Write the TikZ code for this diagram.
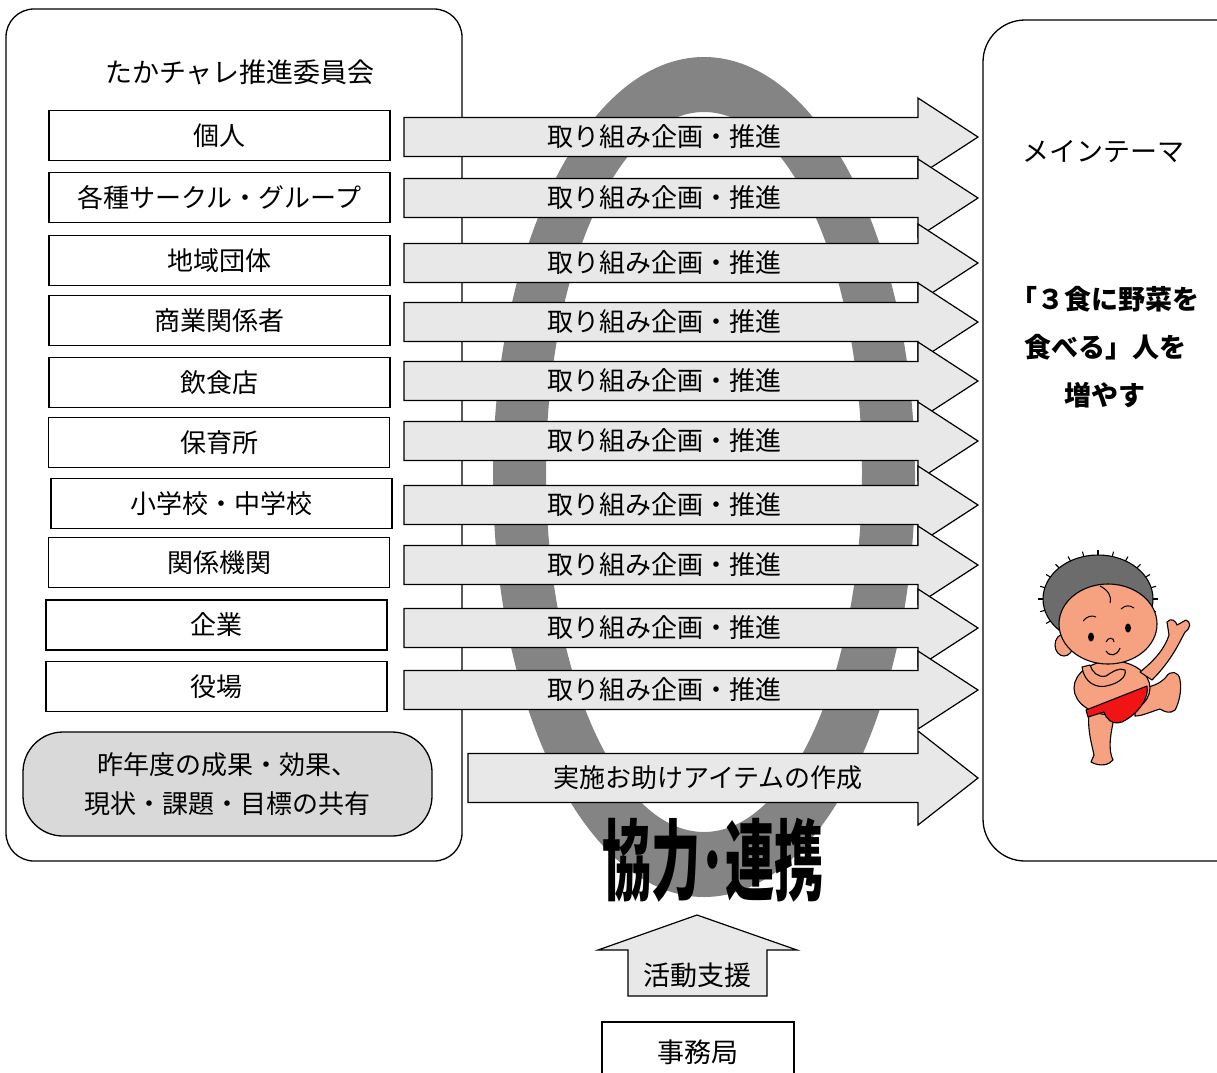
\documentclass[tikz,border=0pt]{standalone}
\usepackage{fontspec}
\usepackage{graphicx}
\setmainfont{Noto Sans CJK JP}
\definecolor{ringgrey}{RGB}{132,132,132}
\definecolor{arrowfill}{RGB}{232,232,232}
\definecolor{panelfill}{RGB}{217,217,217}
\definecolor{skin}{RGB}{246,162,128}
\definecolor{hair}{RGB}{108,108,108}
\definecolor{cloth}{RGB}{240,20,20}

% block arrow: #1 tip name, #2 centre y, #3 left x, #4 half shaft, #5 half head
\newcommand\planarrow[5]{%
  \draw[blockarrow] (#3,#2-#4) -- (918,#2-#4) -- (918,#2-#5) -- (978,#2)
    coordinate (#1) -- (918,#2+#5) -- (918,#2+#4) -- (#3,#2+#4) -- cycle;}

\begin{document}
\begin{tikzpicture}[x=1pt,y=-1pt,
  frame/.style={draw=black,line width=1.3pt},
  member/.style={draw=black,line width=1.3pt,minimum width=341pt,
    minimum height=50pt,inner sep=0pt,font=\fontsize{26}{30}\selectfont},
  blockarrow/.style={draw=black,line width=1.2pt,fill=arrowfill,line join=miter},
  arrowtext/.style={inner sep=0pt,font=\fontsize{26}{30}\selectfont},
  plain/.style={inner sep=0pt,font=\fontsize{27}{31}\selectfont},
  theme/.style={inner sep=0pt,align=center,
    font=\fontsize{27}{48}\selectfont\bfseries},
  outline/.style={draw=black,line width=1.1pt,line join=round}]

\useasboundingbox (0,0) rectangle (1217,1072);
\clip (0,0) rectangle (1217,1072);
\fill[white] (0,0) rectangle (1217,1072);

% cooperation ring behind the arrows
\fill[ringgrey,even odd rule]
  (704,477) ellipse [x radius=211,y radius=420]
  (704,472) ellipse [x radius=158,y radius=360];

% committee panel
\draw[frame,rounded corners=28pt] (6,9) rectangle (462,861);
\node[plain] (title) at (240,72) {たかチャレ推進委員会};

\node[member] (m1)  at (219.5,135.5) {個人};
\node[member] (m2)  at (219.5,197.5) {各種サークル・グループ};
\node[member] (m3)  at (219.5,260.5) {地域団体};
\node[member] (m4)  at (219.5,320.5) {商業関係者};
\node[member] (m5)  at (219.5,382.5) {飲食店};
\node[member] (m6)  at (219,442.5)   {保育所};
\node[member] (m7)  at (221.5,503.5) {小学校・中学校};
\node[member] (m8)  at (219,562.5)   {関係機関};
\node[member] (m9)  at (216.5,625)   {企業};
\node[member] (m10) at (216.5,686.5) {役場};

\node[draw=black,line width=1.3pt,fill=panelfill,rounded corners=40pt,
  minimum width=409pt,minimum height=104pt,inner sep=0pt,align=center,
  font=\fontsize{26}{39}\selectfont] (share) at (227.5,784)
  {昨年度の成果・効果、\\現状・課題・目標の共有};

% theme panel
\draw[frame,rounded corners=42pt] (983,20) rectangle (1260,861);
\node[plain] (themehead) at (1103,152) {メインテーマ};
\node[theme] (theme) at (1105,347) {「３食に野菜を\\食べる」人を\\増やす};

% planning arrows
\foreach \k/\cy in {1/137,2/198,3/263,4/322,5/381,6/441,7/505,8/565,9/628,10/690}{
  \planarrow{tip\k}{\cy}{404}{19.5}{39}
  \node[arrowtext] (plan\k) at (664,\cy) {取り組み企画・推進};
}
\planarrow{tip11}{778}{468}{24.5}{47}
\node[arrowtext] (tools) at (708,778) {実施お助けアイテムの作成};

% cooperation label
\node[inner sep=0pt] (coop) at (713,860)
  {\scalebox{0.56}[1]{\fontsize{88}{88}\selectfont\bfseries 協力･連携}};

% support arrow from the secretariat
\draw[blockarrow] (697,915) coordinate (suptip) -- (797,950) -- (767,950)
  -- (767,996) -- (628,996) -- (628,950) -- (598,950) -- cycle;
\node[arrowtext,font=\fontsize{27}{31}\selectfont] (support) at (697,975) {活動支援};
\node[draw=black,line width=1.3pt,minimum width=192pt,minimum height=60pt,
  inner sep=0pt,font=\fontsize{27}{31}\selectfont] (office) at (698,1052) {事務局};

% mascot
\begin{scope}
  % standing leg
  \filldraw[outline,fill=skin] (1089,710) .. controls (1087,730) and (1092,745) .. (1094,755)
    -- (1091,762) .. controls (1100,767) and (1109,765) .. (1113,760)
    .. controls (1108,750) and (1110,735) .. (1115,714) -- cycle;
  % kicking leg
  \filldraw[outline,fill=skin] (1135,689) .. controls (1150,688) and (1160,684) .. (1166,677)
    .. controls (1170,670) and (1179,671) .. (1180,680)
    .. controls (1182,690) and (1179,703) .. (1175,710)
    .. controls (1170,714) and (1165,712) .. (1160,709)
    .. controls (1150,712) and (1142,716) .. (1135,716) -- cycle;
  % torso
  \filldraw[outline,fill=skin] (1112,688) ellipse [x radius=38,y radius=27];
  % loincloth
  \filldraw[outline,fill=cloth] (1086,710) -- (1147,686)
    .. controls (1149,697) and (1140,713) .. (1122,722)
    .. controls (1112,725) and (1106,719) .. (1104,712) -- (1088,717) -- cycle;
  % raised arm
  \filldraw[outline,fill=skin] (1140,672) .. controls (1155,660) and (1165,648) .. (1169,635)
    -- (1167,622) .. controls (1171,617) and (1176,621) .. (1177,625)
    -- (1186,620) .. controls (1191,622) and (1191,628) .. (1185,632)
    .. controls (1180,641) and (1172,660) .. (1152,680) -- cycle;
  % folded arm
  \filldraw[outline,fill=skin] (1082,667) .. controls (1084,682) and (1096,690) .. (1110,685)
    .. controls (1118,683) and (1127,677) .. (1125,670)
    .. controls (1119,667) and (1112,672) .. (1106,676)
    .. controls (1098,678) and (1092,672) .. (1090,665) -- cycle;
  % hair with spikes
  \foreach \a in {150,165,...,375}{
    \draw[line width=1.1pt] (1098,599) ++(\a:55 and 44) -- ++(\a:5 and 5);
  }
  \filldraw[outline,fill=hair] (1098,599) ellipse [x radius=55,y radius=44];
  % ear and face
  \filldraw[outline,fill=skin] (1064,645) ellipse [x radius=9,y radius=11];
  \filldraw[outline,fill=skin] (1108,624) ellipse [x radius=49,y radius=40];
  \draw[line width=1pt] (1100,586) .. controls (1108,590) and (1112,596) .. (1110,603);
  % face details
  \draw[line width=1pt] (1083,621) .. controls (1087,616) and (1092,615) .. (1096,617);
  \draw[line width=1pt] (1121,609) .. controls (1125,605) and (1130,605) .. (1134,608);
  \fill (1091,637) ellipse [x radius=3,y radius=4.5];
  \fill (1128,628) ellipse [x radius=3,y radius=4.5];
  \draw[line width=1pt] (1106,642) .. controls (1108,637) and (1114,637) .. (1114,642);
  \draw[line width=1.1pt] (1106,651) .. controls (1110,657) and (1117,656) .. (1120,648);
\end{scope}

\end{tikzpicture}
\end{document}
